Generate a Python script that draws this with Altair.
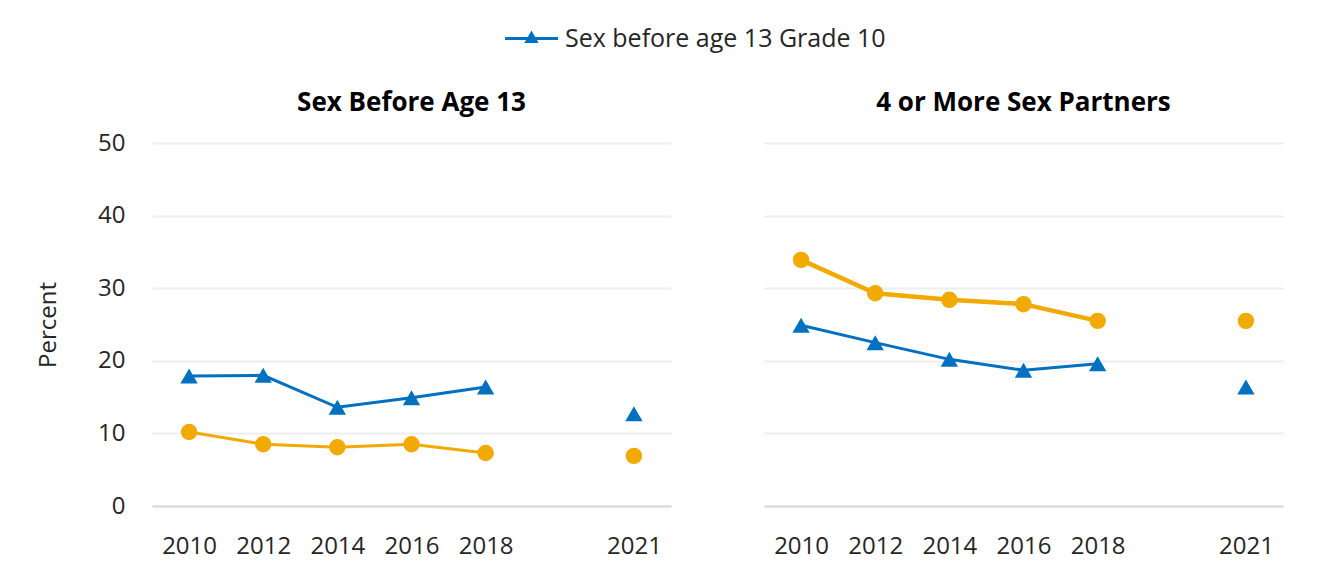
import altair as alt
import pandas as pd

# ---- data ----
x_categories = ["2010", "2012", "2014", "2016", "2018", " ", "2021"]
years = ["2010", "2012", "2014", "2016", "2018", "2021"]
panel_titles = ["Sex Before Age 13", "4 or More Sex Partners"]
blue_name = "Sex before age 13 Grade 10"
orange_name = "Other series"

p1_blue = [17.9, 18.0, 13.6, 14.9, 16.4, 12.7]
p1_orange = [10.2, 8.5, 8.1, 8.5, 7.3, 6.9]
p2_blue = [24.9, 22.5, 20.2, 18.7, 19.6, 16.4]
p2_orange = [33.9, 29.3, 28.4, 27.8, 25.5, 25.5]

y_ticks = [0, 10, 20, 30, 40, 50]

BLUE = "#0070C0"
ORANGE = "#F2A900"
FONT = "Open Sans"
TXT = "#262626"

# custom legend symbol: horizontal line with a triangle in the middle
LEG_SYMBOL = "M-1,-0.055H1V0.055H-1Z M0,-0.30L0.27,0.17H-0.27Z"


def panel(title, blue, orange, orange_w, first, title_offset):
    df = pd.DataFrame({
        "year": years * 2,
        "value": blue + orange,
        "series": [blue_name] * len(years) + [orange_name] * len(years),
    })
    x = alt.X(
        "year:O",
        scale=alt.Scale(type="point", domain=x_categories, padding=0.5),
        axis=alt.Axis(title=None, labelAngle=0, ticks=False, grid=False,
                      domain=True, domainColor="#D9D9D9", domainWidth=2,
                      labelPadding=28, labelFontSize=24, labelFont=FONT,
                      labelColor=TXT),
    )
    if first:
        yaxis = alt.Axis(values=y_ticks, title="Percent", titleFont=FONT,
                         titleFontSize=24, titleFontWeight="normal",
                         titleColor=TXT, titlePadding=37, labelFont=FONT,
                         labelFontSize=24, labelColor=TXT, labelPadding=27,
                         ticks=False, domain=False, gridColor="#EEEEEE",
                         gridWidth=2)
    else:
        yaxis = alt.Axis(values=y_ticks, title=None, labels=False, ticks=False,
                         domain=False, gridColor="#EEEEEE", gridWidth=2)
    y = alt.Y("value:Q", scale=alt.Scale(domain=[0, 50]), axis=yaxis)

    base = alt.Chart(df).encode(x=x, y=y)
    not_last = "datum.year != '2021'"
    blue_line = base.transform_filter(f"datum.series == '{blue_name}'").transform_filter(not_last) \
        .mark_line(color=BLUE, strokeWidth=3)
    orange_line = base.transform_filter(f"datum.series == '{orange_name}'").transform_filter(not_last) \
        .mark_line(color=ORANGE, strokeWidth=orange_w)
    blue_pts = base.transform_filter(f"datum.series == '{blue_name}'").mark_point(
        shape="triangle-up", filled=True, opacity=1, size=300
    ).encode(
        color=alt.Color("series:N",
                        scale=alt.Scale(domain=[blue_name], range=[BLUE]),
                        legend=alt.Legend(orient="none", legendX=353, legendY=-131,
                                          title=None, labelFont=FONT, labelFontSize=25,
                                          labelColor=TXT, symbolType=LEG_SYMBOL,
                                          symbolSize=2809, symbolStrokeWidth=0,
                                          labelOffset=7, labelLimit=0,
                                          direction="horizontal"))
    )
    orange_pts = base.transform_filter(f"datum.series == '{orange_name}'").mark_point(
        shape="circle", filled=True, opacity=1, size=270, color=ORANGE
    )
    return alt.layer(blue_line, orange_line, blue_pts, orange_pts).properties(
        width=519, height=363,
        title=alt.TitleParams(title, font=FONT, fontSize=26, fontWeight="bold",
                              color="#000000", offset=title_offset, anchor="middle",
                              frame="group"),
    )


chart = alt.hconcat(
    panel(panel_titles[0], p1_blue, p1_orange, 3, True, 15),
    panel(panel_titles[1], p2_blue, p2_orange, 4.5, False, 27),
    spacing=93,
).properties(
    padding={"left": 28, "top": 4, "right": 10, "bottom": 10},
    background="white",
).configure_view(strokeWidth=0, stroke=None)

chart.save("out.html", embed_options={"renderer": "svg", "actions": False})
